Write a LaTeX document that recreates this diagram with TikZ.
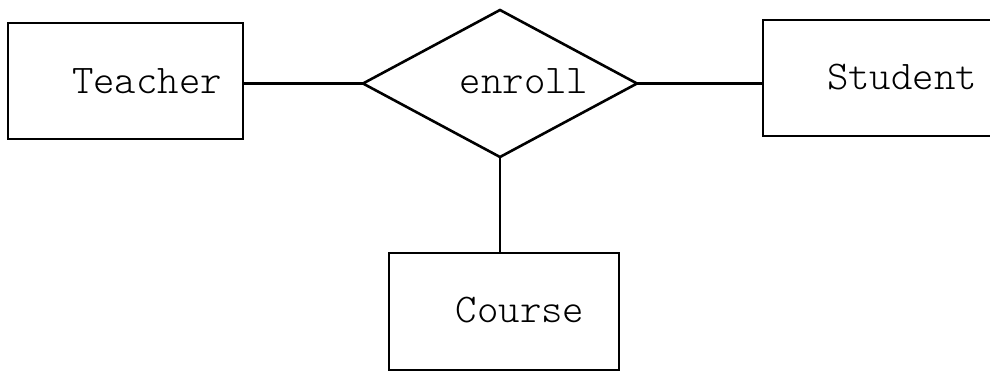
\documentclass[tikz,border=0pt]{standalone}
\usepackage{fontspec}
\setmonofont{Latin Modern Mono Light}
\usetikzlibrary{shapes.geometric}
\begin{document}
\begin{tikzpicture}[x=1pt,y=-1pt,
  line width=2.6pt,
  entity/.style={draw, rectangle, inner sep=0pt, outer sep=0pt},
  relation/.style={draw, diamond, inner sep=0pt, outer sep=0pt, aspect=1.864,
    minimum width=274pt, minimum height=147pt},
  lbl/.style={font=\ttfamily\fontsize{40.8}{44}\selectfont, anchor=base, inner sep=0pt}]
  \useasboundingbox (0,0) rectangle (990,372);
  \clip (0,0) rectangle (990,372);
  % entity boxes
  \node[entity, minimum width=235pt, minimum height=116pt] (teacher) at (125.5,81) {};
  \node[entity, minimum width=240pt, minimum height=116pt] (student) at (883,78) {};
  \node[entity, minimum width=230pt, minimum height=117pt] (course) at (504,311.5) {};
  % relationship
  \node[relation] (enroll) at (500,83.5) {};
  % labels
  \node[lbl] (tTeacher) at (147,93) {Teacher};
  \node[lbl] (tEnroll) at (524,93) {enroll};
  \node[lbl] (tStudent) at (902,89) {Student};
  \node[lbl] (tCourse) at (520,322) {Course};
  % connectors
  \draw (enroll.west) -- (enroll.west -| teacher.east);
  \draw (enroll.east) -- (enroll.east -| student.west);
  \draw (enroll.south) -- (enroll.south |- course.north);
\end{tikzpicture}
\end{document}
